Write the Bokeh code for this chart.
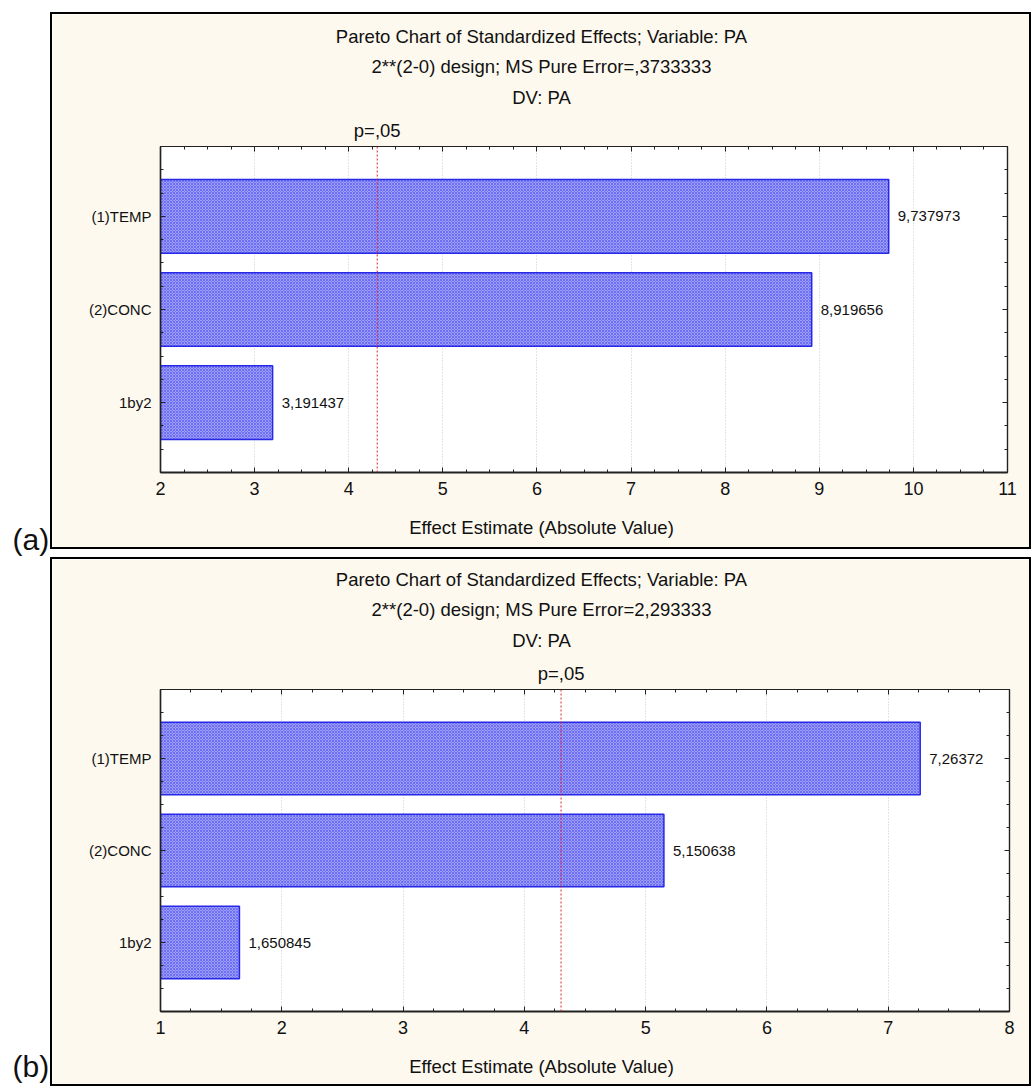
from bokeh.plotting import figure
from bokeh.layouts import row, column
from bokeh.models import (Range1d, FixedTicker, LinearAxis, Span, Spacer, Grid,
                          ColumnDataSource)
from bokeh.core.properties import value
from bokeh.embed import file_html
from bokeh.resources import INLINE

# ---------------- data ----------------
categories = ["(1)TEMP", "(2)CONC", "1by2"]
effects_a = [9.737973, 8.919656, 3.191437]
effects_b = [7.26372, 5.150638, 1.650845]
value_labels_a = ["9,737973", "8,919656", "3,191437"]
value_labels_b = ["7,26372", "5,150638", "1,650845"]
x_ticks_a = [2, 3, 4, 5, 6, 7, 8, 9, 10, 11]
x_ticks_b = [1, 2, 3, 4, 5, 6, 7, 8]
p_critical = 4.302653
p_label = "p=,05"
titles_a = ["Pareto Chart of Standardized Effects; Variable: PA",
            "2**(2-0) design; MS Pure Error=,3733333",
            "DV: PA"]
titles_b = ["Pareto Chart of Standardized Effects; Variable: PA",
            "2**(2-0) design; MS Pure Error=2,293333",
            "DV: PA"]
x_axis_title = "Effect Estimate (Absolute Value)"
panel_labels = ["(a)", "(b)"]

FONT = "Liberation Sans"
CREAM = "#fdf9ef"
BAR_FILL = "#9c9ef6"
BAR_LINE = "#2828e8"
TXT = "#111111"
W = 977          # width of each boxed chart canvas
TEXT_CENTER = 489  # horizontal centre of the titles, px from the canvas left


def minor_list(ticks, step):
    out = []
    v = ticks[0]
    while v <= ticks[-1] + 1e-9:
        out.append(round(v, 4))
        v += step
    return out


def text_axis(p, loc, text, where, standoff, size="18.5px"):
    ax = LinearAxis(ticker=FixedTicker(ticks=[loc]), major_label_overrides={loc: text})
    ax.axis_line_color = None
    ax.major_tick_line_color = None
    ax.minor_tick_line_color = None
    ax.major_tick_in = 0
    ax.major_tick_out = 0
    ax.major_label_standoff = standoff
    ax.major_label_text_font = FONT
    ax.major_label_text_font_size = size
    ax.major_label_text_color = TXT
    p.add_layout(ax, where)


def panel(effects, vlabels, xticks, titles, width, height, borders):
    bl, br, bt, bb = borders
    n = len(categories)
    ypos = list(range(n, 0, -1))
    x0, x1 = xticks[0], xticks[-1]
    p = figure(width=width, height=height, output_backend="svg", toolbar_location=None,
               x_range=Range1d(x0, x1), y_range=Range1d(0.25, n + 0.75),
               x_axis_type=None, y_axis_type=None,
               min_border_left=bl, min_border_right=br, min_border_top=bt, min_border_bottom=bb,
               background_fill_color="white", border_fill_color=CREAM)
    p.outline_line_color = "#222222"
    p.outline_line_width = 1.2

    # data value that sits under the titles' horizontal centre
    frame_w = width - bl - br
    centre = x0 + (TEXT_CENTER - bl) / frame_w * (x1 - x0)

    xt = FixedTicker(ticks=xticks, minor_ticks=minor_list(xticks, 0.25))
    yt = FixedTicker(ticks=ypos, minor_ticks=[k * 0.25 for k in range(1, 4 * n + 3)])
    overrides = {y: c for y, c in zip(ypos, categories)}

    def style_axis(ax, show_labels):
        ax.major_tick_in = 5
        ax.major_tick_out = 0
        ax.minor_tick_in = 3
        ax.minor_tick_out = 0
        ax.major_tick_line_color = "#222222"
        ax.minor_tick_line_color = "#222222"
        ax.axis_line_color = "#222222"
        ax.axis_line_width = 1.2
        if not show_labels:
            ax.major_label_text_font_size = "0px"
            ax.major_label_text_alpha = 0
            ax.major_label_standoff = 0

    xb = LinearAxis(ticker=xt)
    style_axis(xb, True)
    xb.major_label_text_font = FONT
    xb.major_label_text_font_size = "18px"
    xb.major_label_text_color = TXT
    xb.major_label_standoff = 9
    xb.axis_line_width = 2
    p.add_layout(xb, "below")
    text_axis(p, centre, x_axis_title, "below", 19)

    xa = LinearAxis(ticker=xt)
    style_axis(xa, False)
    p.add_layout(xa, "above")
    text_axis(p, p_critical, p_label, "above", 6)
    text_axis(p, centre, titles[2], "above", 9)
    text_axis(p, centre, titles[1], "above", 7)
    text_axis(p, centre, titles[0], "above", 6)

    yl = LinearAxis(ticker=yt, major_label_overrides=overrides)
    style_axis(yl, True)
    yl.major_label_text_font = FONT
    yl.major_label_text_font_size = "15px"
    yl.major_label_text_color = TXT
    yl.major_label_standoff = 9
    yl.axis_line_width = 1.5
    p.add_layout(yl, "left")

    yr = LinearAxis(ticker=yt)
    style_axis(yr, False)
    p.add_layout(yr, "right")

    p.xgrid.visible = False
    p.ygrid.visible = False
    g = Grid(dimension=0, ticker=xt, grid_line_color="#c8c8c8", grid_line_dash="1 2",
             grid_line_width=1)
    p.add_layout(g)

    src = ColumnDataSource(dict(y=ypos, right=effects, label=vlabels, left=[x0] * n))
    p.hbar(y="y", left="left", right="right", height=0.79, source=src,
           fill_color=BAR_FILL, line_color=BAR_LINE, line_width=1.5,
           hatch_pattern="x", hatch_color="#3838f0", hatch_scale=3, hatch_weight=0.8,
           hatch_alpha=0.6)
    p.text(x="right", y="y", text="label", source=src, x_offset=9,
           text_baseline="middle", text_align="left", text_font=value(FONT),
           text_font_size="15px", text_color=TXT)

    p.add_layout(Span(location=p_critical, dimension="height", line_color="#e02020",
                      line_dash="2 2", line_width=1))
    return p


fig_a = panel(effects_a, value_labels_a, x_ticks_a, titles_a, W, 533, (108, 22, 132, 75))
fig_b = panel(effects_b, value_labels_b, x_ticks_b, titles_b, W, 525, (108, 20, 130, 73))


def hbar_line():
    return Spacer(width=W + 4, height=2, styles={"background-color": "black"})


def boxed(fig, h):
    return column(hbar_line(),
                  row(Spacer(width=2, height=h, styles={"background-color": "black"}), fig,
                      Spacer(width=2, height=h, styles={"background-color": "black"}), spacing=0),
                  hbar_line(), spacing=0)


# left strip with panel letters
lab = figure(width=50, height=1086, output_backend="svg", toolbar_location=None,
             x_range=Range1d(0, 50), y_range=Range1d(1086, 0),
             x_axis_type=None, y_axis_type=None, min_border=0,
             background_fill_color="white", border_fill_color="white")
lab.outline_line_color = None
lab.xgrid.visible = False
lab.ygrid.visible = False
lab.text(x=[12, 12], y=[539, 1066], text=panel_labels, text_font=value(FONT),
         text_font_size="30px", text_baseline="alphabetic", text_align="left",
         text_color=TXT)

right_col = column(Spacer(width=W + 4, height=12), boxed(fig_a, 533),
                   Spacer(width=W + 4, height=8), boxed(fig_b, 525), spacing=0)
layout = row(lab, right_col, spacing=0)

open("out.html", "w").write(file_html(layout, INLINE))
